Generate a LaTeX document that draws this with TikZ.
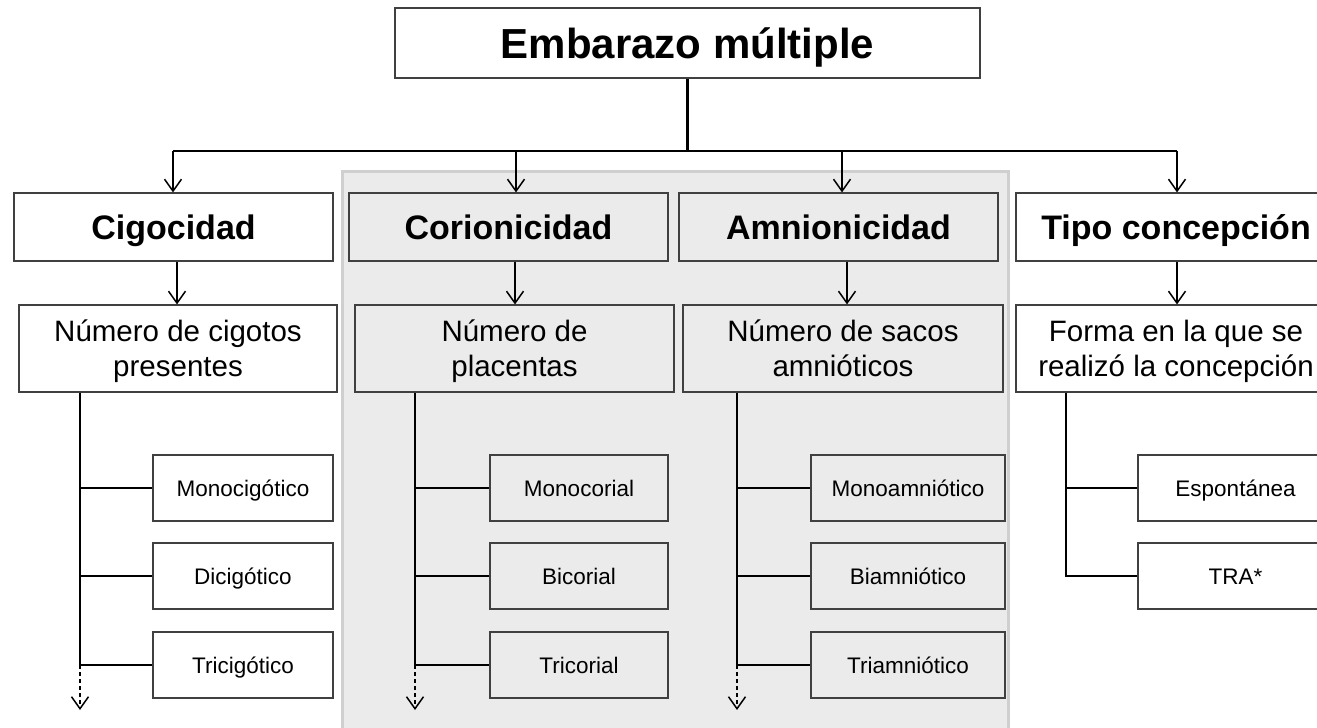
\documentclass[tikz,border=0pt]{standalone}
\usepackage{fontspec}
\setmainfont{Liberation Sans}
\usetikzlibrary{arrows.meta,calc}
\definecolor{panelgrey}{HTML}{EBEBEB}
\definecolor{panelborder}{HTML}{CFCFCF}
\definecolor{boxline}{HTML}{404040}
\begin{document}
\begin{tikzpicture}[x=1pt,y=-1pt,
  box/.style={draw=boxline,line width=1.1pt,fill=white,inner sep=0pt,align=center,anchor=center},
  greybox/.style={box,fill=panelgrey},
  titlefont/.style={font=\fontsize{42}{50}\selectfont\bfseries,text height=30pt,text depth=0pt},
  headfont/.style={font=\fontsize{34}{40}\selectfont\bfseries,text height=24.5pt,text depth=0pt},
  subfont/.style={font=\fontsize{29.5}{35}\selectfont,text height=56pt,text depth=0pt},
  leaffont/.style={font=\fontsize{22.5}{27}\selectfont,text height=16.2pt,text depth=0pt},
  headbox/.style={minimum width=320pt,minimum height=68pt,headfont},
  subbox/.style={minimum height=87pt,subfont},
  leafbox/.style={minimum height=66pt,leaffont},
  bus/.style={line width=2.8pt,black},
  arr/.style={line width=1.5pt,black,-{Straight Barb[length=12pt,width=17pt,line width=1.5pt]}},
  branch/.style={line width=2.2pt,black},
  dasharr/.style={line width=1.6pt,black,dash pattern=on 4pt off 3pt,-{Straight Barb[length=12pt,width=17pt,line width=1.5pt]}},
  panel/.style={fill=panelgrey,draw=panelborder,line width=3pt}
]
\useasboundingbox (0,0) rectangle (1317,728);
\clip (0,0) rectangle (1317,728);
% grey panel
\path[panel] (342,171) rectangle (1008,745);
% top
\node[box,titlefont,minimum width=585pt,minimum height=70pt] (emb) at (687.5,43) {Embarazo múltiple};
% level 2
\node[box,headbox,minimum width=319pt] (cig) at (173.5,227) {Cigocidad};
\node[greybox,headbox,minimum width=319pt] (cor) at (508.5,227) {Corionicidad};
\node[greybox,headbox,minimum width=319pt] (amn) at (838.5,227) {Amnionicidad};
\node[box,headbox] (tipo) at (1176,227) {Tipo concepción};
% level 3
\node[box,subbox,minimum width=318pt] (num1) at (178,348.5) {Número de cigotos\\presentes};
\node[greybox,subbox,minimum width=319pt] (num2) at (514.5,348.5) {Número de\\placentas};
\node[greybox,subbox,minimum width=320pt] (num3) at (843,348.5) {Número de sacos\\amnióticos};
\node[box,subbox,minimum width=320pt] (num4) at (1176,348.5) {Forma en la que se\\realizó la concepción};
% leaves
\node[box,leafbox,minimum width=180pt] (l11) at (243,488) {Monocigótico};
\node[box,leafbox,minimum width=180pt] (l12) at (243,576) {Dicigótico};
\node[box,leafbox,minimum width=180pt] (l13) at (243,665) {Tricigótico};
\node[greybox,leafbox,minimum width=178pt] (l21) at (579,488) {Monocorial};
\node[greybox,leafbox,minimum width=178pt] (l22) at (579,576) {Bicorial};
\node[greybox,leafbox,minimum width=178pt] (l23) at (579,665) {Tricorial};
\node[greybox,leafbox,minimum width=194pt] (l31) at (908,488) {Monoamniótico};
\node[greybox,leafbox,minimum width=194pt] (l32) at (908,576) {Biamniótico};
\node[greybox,leafbox,minimum width=194pt] (l33) at (908,665) {Triamniótico};
\node[box,leafbox,minimum width=195pt] (l41) at (1235.5,488) {Espontánea};
\node[box,leafbox,minimum width=195pt] (l42) at (1235.5,576) {TRA*};
% bus coordinates
\coordinate (b1) at (173,151);
\coordinate (b2) at (516,151);
\coordinate (b3) at (842,151);
\coordinate (b4) at (1177,151);
\coordinate (bm) at (emb.south |- b1);
\draw[bus] (emb.south) -- (bm);
\draw[bus] (b1) -- (b4);
\draw[arr] (b1) -- (b1 |- cig.north);
\draw[arr] (b2) -- (b2 |- cor.north);
\draw[arr] (b3) -- (b3 |- amn.north);
\draw[arr] (b4) -- (b4 |- tipo.north);
% level 2 -> 3
\coordinate (a1) at (177,0);
\coordinate (a2) at (515,0);
\coordinate (a3) at (847,0);
\coordinate (a4) at (1177,0);
\draw[arr] (cig.south -| a1) -- (num1.north -| a1);
\draw[arr] (cor.south -| a2) -- (num2.north -| a2);
\draw[arr] (amn.south -| a3) -- (num3.north -| a3);
\draw[arr] (tipo.south -| a4) -- (num4.north -| a4);
% spines
\coordinate (s1) at (80,0);
\coordinate (s2) at (415,0);
\coordinate (s3) at (737,0);
\coordinate (s4) at (1066,0);
\coordinate (e1) at (80,710);
\coordinate (e2) at (415,710);
\coordinate (e3) at (737,710);
\draw[branch] (num1.south -| s1) -- (l13.west -| s1);
\draw[branch] (num2.south -| s2) -- (l23.west -| s2);
\draw[branch] (num3.south -| s3) -- (l33.west -| s3);
\draw[dasharr] (l13.west -| s1) -- (e1);
\draw[dasharr] (l23.west -| s2) -- (e2);
\draw[dasharr] (l33.west -| s3) -- (e3);
\foreach \c/\s in {l11/s1,l12/s1,l13/s1,l21/s2,l22/s2,l23/s2,l31/s3,l32/s3,l33/s3,l41/s4}{
  \draw[branch] (\c.west -| \s) -- (\c.west);
}
\draw[branch] (num4.south -| s4) |- (l42.west);
\end{tikzpicture}
\end{document}
